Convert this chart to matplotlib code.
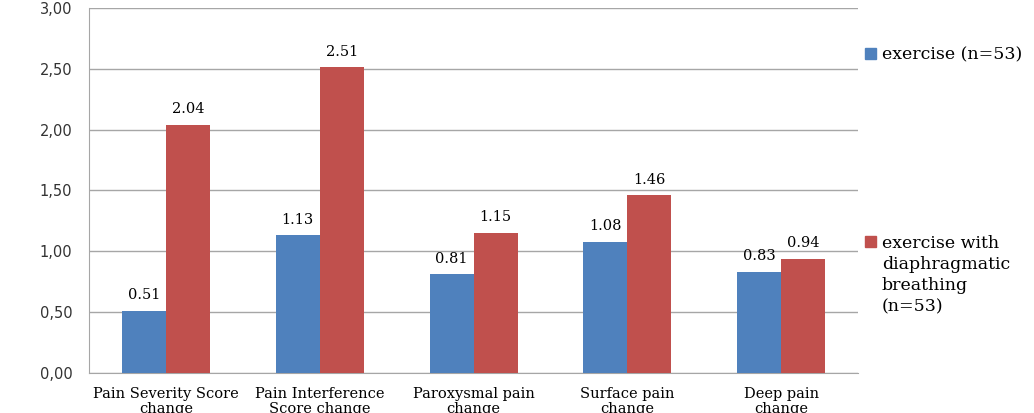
import numpy as np
import matplotlib.pyplot as plt
from matplotlib.patches import Patch

categories = ['Pain Severity Score\nchange', 'Pain Interference\nScore change',
              'Paroxysmal pain\nchange', 'Surface pain\nchange', 'Deep pain\nchange']
exercise = [0.51, 1.13, 0.81, 1.08, 0.83]
breathing = [2.04, 2.51, 1.15, 1.46, 0.94]
series_names = ['exercise (n=53)', ['exercise with', 'diaphragmatic', 'breathing', '(n=53)']]
blue = '#4F81BD'
red = '#C0504D'
serif = 'DejaVu Serif'

fig = plt.figure(figsize=(10.34, 4.13), dpi=100)
ax = fig.add_axes([0.086, 0.097, 0.744, 0.884])

x = np.arange(len(categories))
w = 0.286
b1 = ax.bar(x - w / 2, exercise, w, color=blue, zorder=3)
b2 = ax.bar(x + w / 2, breathing, w, color=red, zorder=3)

for bars, vals in ((b1, exercise), (b2, breathing)):
    for bar, v in zip(bars, vals):
        ax.text(bar.get_x() + bar.get_width() / 2, v + 0.07, f'{v:.2f}',
                ha='center', va='bottom', fontsize=10.5, family=serif)

ax.set_xlim(-0.5, len(categories) - 0.5)
ax.set_ylim(0, 3)
ticks = np.arange(0, 3.01, 0.5)
ax.set_yticks(ticks)
ax.set_yticklabels([f'{t:.2f}'.replace('.', ',') for t in ticks],
                   fontsize=10.5, color='#333333')
ax.set_xticks(x)
ax.set_xticklabels(categories, fontsize=10.5, family=serif, linespacing=1.15)
ax.tick_params(axis='y', length=0, pad=12)
ax.tick_params(axis='x', length=0, pad=10)
ax.yaxis.grid(True, color='#a6a6a6', linewidth=1, zorder=0)
for side in ('top', 'right'):
    ax.spines[side].set_visible(False)
for side in ('left', 'bottom'):
    ax.spines[side].set_color('#a6a6a6')

fig.legend(handles=[Patch(color=blue)], labels=[series_names[0]], loc='upper left',
           bbox_to_anchor=(0.821, 0.925), frameon=False, handlelength=0.65, handleheight=0.65,
           handletextpad=0.35, prop={'family': serif, 'size': 12.5})
red_handles = [Patch(color=red)] + [Patch(color='none') for _ in series_names[1][1:]]
fig.legend(handles=red_handles, labels=series_names[1], loc='upper left',
           bbox_to_anchor=(0.821, 0.47), frameon=False, handlelength=0.65, handleheight=0.65,
           handletextpad=0.35, labelspacing=0.25, prop={'family': serif, 'size': 12.5})

plt.savefig('out.png', dpi=100)
